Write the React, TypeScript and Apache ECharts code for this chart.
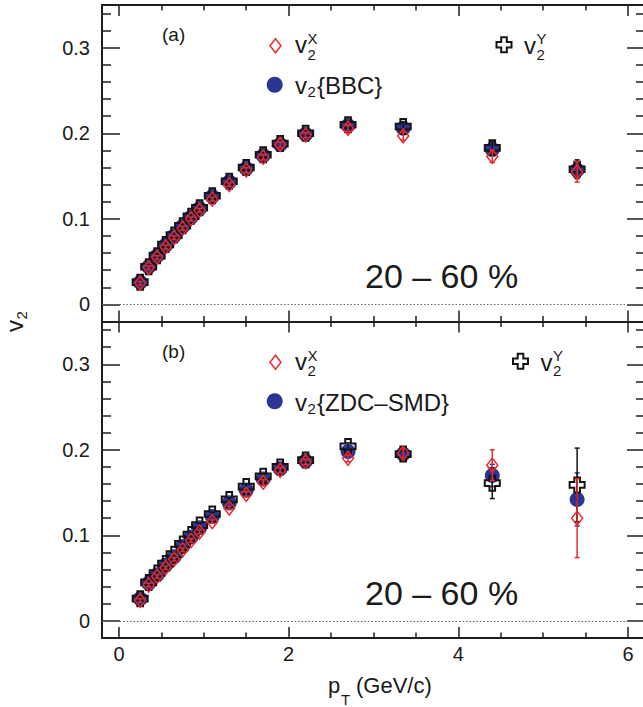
import React, { useEffect, useRef } from 'react';
import * as echarts from 'echarts';

// ---------------- data ----------------
const pT = [0.25, 0.35, 0.45, 0.55, 0.65, 0.75, 0.85, 0.95, 1.1, 1.3, 1.5, 1.7, 1.9, 2.2, 2.7, 3.35, 4.4, 5.4];

// panel (a)
const aBBC = [0.026, 0.044, 0.057, 0.069, 0.080, 0.091, 0.102, 0.112, 0.126, 0.143, 0.159, 0.174, 0.187, 0.199, 0.209, 0.206, 0.181, 0.157];
const aBBCErr = [0.001, 0.001, 0.001, 0.001, 0.001, 0.001, 0.001, 0.001, 0.001, 0.001, 0.002, 0.002, 0.002, 0.002, 0.003, 0.003, 0.005, 0.008];
const aX = [0.025, 0.043, 0.055, 0.067, 0.078, 0.089, 0.100, 0.110, 0.123, 0.140, 0.157, 0.172, 0.187, 0.198, 0.206, 0.197, 0.173, 0.155];
const aXErr = [0.002, 0.002, 0.002, 0.002, 0.002, 0.002, 0.002, 0.002, 0.002, 0.002, 0.003, 0.003, 0.003, 0.003, 0.004, 0.005, 0.007, 0.012];
const aY = [0.026, 0.044, 0.057, 0.070, 0.081, 0.092, 0.103, 0.113, 0.127, 0.144, 0.160, 0.175, 0.188, 0.200, 0.210, 0.208, 0.183, 0.158];
const aYErr = [0.002, 0.002, 0.002, 0.002, 0.002, 0.002, 0.002, 0.002, 0.002, 0.002, 0.003, 0.003, 0.003, 0.003, 0.004, 0.005, 0.007, 0.011];

// panel (b)
const bZDC = [0.026, 0.044, 0.054, 0.065, 0.075, 0.087, 0.098, 0.109, 0.122, 0.138, 0.153, 0.166, 0.178, 0.187, 0.198, 0.195, 0.170, 0.142];
const bZDCErr = [0.001, 0.001, 0.001, 0.001, 0.001, 0.001, 0.001, 0.001, 0.001, 0.002, 0.002, 0.002, 0.002, 0.002, 0.003, 0.004, 0.013, 0.031];
const bX = [0.024, 0.042, 0.052, 0.062, 0.072, 0.083, 0.094, 0.104, 0.116, 0.132, 0.148, 0.162, 0.176, 0.186, 0.190, 0.196, 0.182, 0.120];
const bXErr = [0.002, 0.002, 0.002, 0.002, 0.002, 0.002, 0.002, 0.002, 0.002, 0.002, 0.003, 0.003, 0.003, 0.003, 0.004, 0.005, 0.018, 0.046];
const bY = [0.026, 0.045, 0.056, 0.067, 0.078, 0.090, 0.101, 0.112, 0.125, 0.142, 0.157, 0.169, 0.180, 0.188, 0.204, 0.195, 0.161, 0.159];
const bYErr = [0.002, 0.002, 0.002, 0.002, 0.002, 0.002, 0.002, 0.002, 0.002, 0.002, 0.003, 0.003, 0.003, 0.003, 0.004, 0.005, 0.018, 0.043];

// ticks
const xMajor = [0, 2, 4, 6];
const xMinor = [0.5, 1, 1.5, 2.5, 3, 3.5, 4.5, 5, 5.5];
const yMajor = [0, 0.1, 0.2, 0.3];
const yMinor = [0.02, 0.04, 0.06, 0.08, 0.12, 0.14, 0.16, 0.18, 0.22, 0.24, 0.26, 0.28, 0.32, 0.34];

// ---------------- style ----------------
const FONT = "'Liberation Sans', Arial, Helvetica, sans-serif";
const BLUE = '#2c3592';
const RED = '#e82a2f';
const BLACK = '#141414';
const AXIS = '#1e1e1e';
const TXT = '#1a1a1a';
const GRID_LEFT = 102;
const GRID_W = 543;
const PANEL_H = 316.5;
const TOP0 = 5;

const CROSS = 'path://M5,0 H11 V5 H16 V11 H11 V16 H5 V11 H0 V5 H5 Z';

function buildXAxes(g: number) {
  const base = {
    type: 'value', gridIndex: g, min: -0.2, max: 6.2,
    splitLine: { show: false },
  };
  const tickStyle = { color: AXIS, width: 1.5 };
  return [
    {
      ...base, position: 'bottom',
      axisLine: { show: true, onZero: false, lineStyle: { color: AXIS, width: 2 } },
      axisTick: { show: true, inside: true, length: 11, customValues: xMajor, lineStyle: tickStyle },
      axisLabel: { show: g === 1, customValues: xMajor, margin: 6, fontSize: 20, color: TXT, fontFamily: FONT },
    },
    {
      ...base, position: 'bottom',
      axisLine: { show: false, onZero: false },
      axisTick: { show: true, inside: true, length: 5.5, customValues: xMinor, lineStyle: tickStyle },
      axisLabel: { show: false },
    },
    {
      ...base, position: 'top',
      axisLine: { show: true, onZero: false, lineStyle: { color: AXIS, width: 2 } },
      axisTick: { show: true, inside: true, length: 11, customValues: xMajor, lineStyle: tickStyle },
      axisLabel: { show: false },
    },
    {
      ...base, position: 'top',
      axisLine: { show: false, onZero: false },
      axisTick: { show: true, inside: true, length: 5.5, customValues: xMinor, lineStyle: tickStyle },
      axisLabel: { show: false },
    },
  ];
}

function buildYAxes(g: number) {
  const base = {
    type: 'value', gridIndex: g, min: -0.02, max: 0.35,
    splitLine: { show: false },
  };
  const tickStyle = { color: AXIS, width: 1.5 };
  return [
    {
      ...base, position: 'left',
      axisLine: { show: true, onZero: false, lineStyle: { color: AXIS, width: 2 } },
      axisTick: { show: true, inside: true, length: 18, customValues: yMajor, lineStyle: tickStyle },
      axisLabel: {
        show: true, customValues: yMajor, margin: 12, fontSize: 20, color: TXT, fontFamily: FONT,
        formatter: (v: number) => (Math.abs(v) < 1e-9 ? '0' : v.toFixed(1)),
      },
    },
    {
      ...base, position: 'left',
      axisLine: { show: false, onZero: false },
      axisTick: { show: true, inside: true, length: 9, customValues: yMinor, lineStyle: tickStyle },
      axisLabel: { show: false },
    },
    {
      ...base, position: 'right',
      axisLine: { show: true, onZero: false, lineStyle: { color: AXIS, width: 2 } },
      axisTick: { show: true, inside: true, length: 18, customValues: yMajor, lineStyle: tickStyle },
      axisLabel: { show: false },
    },
    {
      ...base, position: 'right',
      axisLine: { show: false, onZero: false },
      axisTick: { show: true, inside: true, length: 9, customValues: yMinor, lineStyle: tickStyle },
      axisLabel: { show: false },
    },
  ];
}

function errSeries(g: number, vals: number[], errs: number[], color: string, z: number) {
  return {
    type: 'custom',
    xAxisIndex: g * 4,
    yAxisIndex: g * 4,
    z,
    silent: true,
    encode: { x: 0, y: 1 },
    data: pT.map((x, i) => [x, vals[i], errs[i]]),
    renderItem: (_params: any, api: any) => {
      const x = api.value(0);
      const y = api.value(1);
      const e = api.value(2);
      const lo = api.coord([x, y - e]);
      const hi = api.coord([x, y + e]);
      const cap = 2.5;
      const style = { stroke: color, lineWidth: 1.5 };
      return {
        type: 'group',
        children: [
          { type: 'line', shape: { x1: lo[0], y1: lo[1], x2: hi[0], y2: hi[1] }, style },
          { type: 'line', shape: { x1: lo[0] - cap, y1: lo[1], x2: lo[0] + cap, y2: lo[1] }, style },
          { type: 'line', shape: { x1: hi[0] - cap, y1: hi[1], x2: hi[0] + cap, y2: hi[1] }, style },
        ],
      };
    },
  };
}

function panelSeries(g: number, circ: number[], circErr: number[], yv: number[], yErr: number[], xv: number[], xErr: number[]) {
  return [
    {
      type: 'scatter', xAxisIndex: g * 4, yAxisIndex: g * 4, z: 2,
      symbol: 'circle', symbolSize: 15,
      itemStyle: { color: BLUE, opacity: 1 },
      data: pT.map((x, i) => [x, circ[i]]),
      markLine: {
        silent: true, symbol: ['none', 'none'], label: { show: false },
        lineStyle: { type: [1.5, 2], color: '#666', width: 1.2 },
        data: [{ yAxis: 0 }],
      },
    },
    errSeries(g, circ, circErr, BLUE, 3),
    {
      type: 'scatter', xAxisIndex: g * 4, yAxisIndex: g * 4, z: 4,
      symbol: CROSS, symbolSize: 15,
      itemStyle: { color: 'rgba(0,0,0,0)', borderColor: BLACK, borderWidth: 2, opacity: 1 },
      data: pT.map((x, i) => [x, yv[i]]),
    },
    errSeries(g, yv, yErr, BLACK, 5),
    {
      type: 'scatter', xAxisIndex: g * 4, yAxisIndex: g * 4, z: 6,
      symbol: 'diamond', symbolSize: [11, 14],
      itemStyle: { color: 'rgba(0,0,0,0)', borderColor: RED, borderWidth: 1.5, opacity: 1 },
      data: pT.map((x, i) => [x, xv[i]]),
    },
    errSeries(g, xv, xErr, RED, 7),
  ];
}

function txt(text: string, x: number, y: number, fs: number, lh?: number) {
  const style: any = { text, fontSize: fs, fontFamily: FONT, fill: TXT, align: 'left', verticalAlign: 'middle' };
  if (lh) style.lineHeight = lh;
  return { type: 'text', x, y, silent: true, style };
}

function crossPoints(cx: number, cy: number, s: number) {
  const a = s * 5 / 16, b = s * 11 / 16;
  const x0 = cx - s / 2, y0 = cy - s / 2;
  const P = [[a, 0], [b, 0], [b, a], [s, a], [s, b], [b, b], [b, s], [a, s], [a, b], [0, b], [0, a], [a, a]];
  return P.map(([px, py]) => [x0 + px, y0 + py]);
}

function panelGraphics(off: number, tag: string, label: string, crossX: number) {
  return [
    txt(tag, 162, 34.5 + off, 19),
    {
      type: 'polygon', silent: true,
      shape: { points: [[275.5, 38.8 + off], [281, 45.8 + off], [275.5, 52.8 + off], [270, 45.8 + off]] },
      style: { fill: 'none', stroke: RED, lineWidth: 1.5 },
    },
    txt('v', 295, 44.7 + off, 24),
    txt('X', 307.5, 38.6 + off, 15, 11),
    txt('2', 307.5, 54.2 + off, 15, 11),
    { type: 'circle', silent: true, shape: { cx: 274.7, cy: 84.7 + off, r: 8 }, style: { fill: BLUE } },
    txt('v', 295, 85.7 + off, 24),
    txt('2', 307.5, 91.7 + off, 15, 11),
    txt(label, 317, 85.7 + off, 24),
    {
      type: 'polygon', silent: true,
      shape: { points: crossPoints(crossX, 44.7 + off, 15) },
      style: { fill: '#fff', stroke: BLACK, lineWidth: 2 },
    },
    txt('v', crossX + 20, 45.5 + off, 24),
    txt('Y', crossX + 32.5, 38.6 + off, 15, 11),
    txt('2', crossX + 32.5, 54.2 + off, 15, 11),
    txt('20 – 60 %', 365, 276 + off, 34),
  ];
}

export default function App() {
  const ref = useRef<HTMLDivElement>(null);
  useEffect(() => {
    if (!ref.current) return;
    const chart = echarts.init(ref.current, undefined, { renderer: 'svg' });
    const option: any = {
      animation: false,
      backgroundColor: '#fff',
      textStyle: { fontFamily: FONT },
      grid: [
        { left: GRID_LEFT, top: TOP0, width: GRID_W, height: PANEL_H, outerBoundsMode: 'none' },
        { left: GRID_LEFT, top: TOP0 + PANEL_H, width: GRID_W, height: PANEL_H, outerBoundsMode: 'none' },
      ],
      xAxis: [...buildXAxes(0), ...buildXAxes(1)],
      yAxis: [...buildYAxes(0), ...buildYAxes(1)],
      series: [
        ...panelSeries(0, aBBC, aBBCErr, aY, aYErr, aX, aXErr),
        ...panelSeries(1, bZDC, bZDCErr, bY, bYErr, bX, bXErr),
      ],
      graphic: [
        ...panelGraphics(0, '(a)', '{BBC}', 504),
        ...panelGraphics(PANEL_H, '(b)', '{ZDC–SMD}', 520.5),
        {
          type: 'group', x: 14.5, y: 332, rotation: Math.PI / 2, silent: true,
          children: [txt('v', 0, 0, 24), txt('2', 12.5, 6.8, 15, 11)],
        },
        txt('p', 328, 685.4, 22),
        txt('T', 341, 699.5, 15, 11),
        txt('(GeV/c)', 356, 685.4, 22),
      ],
    };
    chart.setOption(option);
    return () => chart.dispose();
  }, []);
  return (
    <div
      ref={ref}
      style={{ position: 'fixed', left: 0, top: 0, width: 643, height: 707, background: '#fff' }}
    />
  );
}
